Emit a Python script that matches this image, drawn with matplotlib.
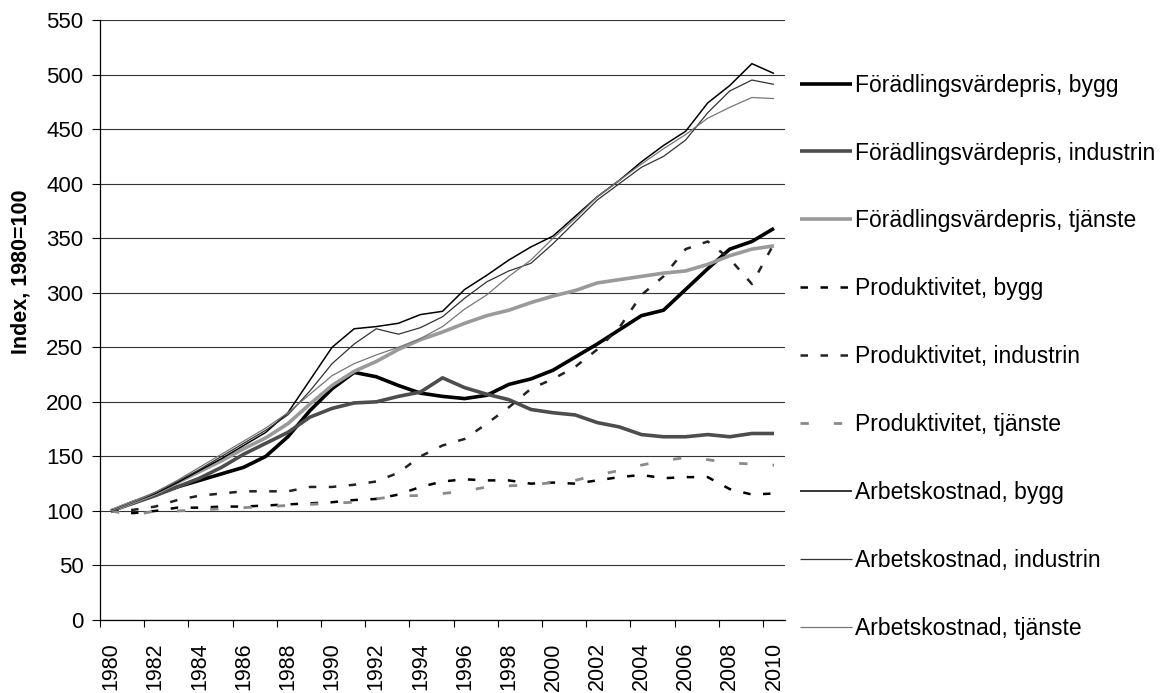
import matplotlib
matplotlib.use("Agg")
import matplotlib.pyplot as plt
import numpy as np

years = list(range(1980, 2011))

fv_bygg = [100, 108, 115, 122, 128, 134, 140, 150, 168, 192, 212, 227, 223, 215, 208, 205,
           203, 206, 216, 221, 229, 241, 253, 266, 279, 284, 303, 322, 340, 347, 359]
fv_industrin = [100, 107, 114, 122, 130, 140, 152, 162, 172, 186, 194, 199, 200, 205, 209, 222,
                213, 207, 202, 193, 190, 188, 181, 177, 170, 168, 168, 170, 168, 171, 171]
fv_tjanste = [100, 108, 116, 126, 136, 146, 157, 167, 180, 198, 215, 228, 237, 248, 257, 264,
              272, 279, 284, 291, 297, 302, 309, 312, 315, 318, 320, 326, 334, 340, 343]
prod_bygg = [100, 98, 100, 103, 103, 104, 104, 105, 106, 107, 108, 110, 111, 115, 122, 127,
             129, 128, 128, 125, 126, 125, 128, 131, 133, 130, 131, 131, 120, 115, 116]
prod_industrin = [100, 101, 104, 110, 114, 116, 118, 118, 118, 122, 122, 124, 127, 135, 150, 160,
                  166, 180, 195, 212, 221, 232, 248, 268, 298, 315, 340, 347, 331, 308, 345]
prod_tjanste = [100, 96, 100, 100, 101, 102, 103, 104, 105, 106, 107, 108, 111, 114, 114, 116,
                118, 122, 123, 124, 126, 128, 133, 137, 142, 146, 149, 147, 144, 143, 142]
ak_bygg = [100, 108, 116, 126, 137, 148, 160, 172, 190, 220, 250, 267, 269, 272, 280, 283,
           303, 316, 330, 342, 352, 370, 388, 403, 420, 435, 448, 474, 490, 510, 501]
ak_industrin = [100, 108, 117, 127, 138, 150, 162, 174, 188, 210, 235, 253, 267, 262, 268, 278,
                295, 310, 320, 327, 345, 365, 385, 400, 415, 425, 440, 465, 485, 495, 491]
ak_tjanste = [100, 108, 117, 128, 140, 152, 164, 176, 190, 207, 224, 235, 243, 250, 258, 269,
              285, 298, 315, 330, 350, 368, 388, 403, 418, 432, 445, 460, 470, 479, 478]

labels = ["Förädlingsvärdepris, bygg", "Förädlingsvärdepris, industrin",
          "Förädlingsvärdepris, tjänste", "Produktivitet, bygg", "Produktivitet, industrin",
          "Produktivitet, tjänste", "Arbetskostnad, bygg", "Arbetskostnad, industrin",
          "Arbetskostnad, tjänste"]
tick_years = list(range(1980, 2011, 2))
yticks = list(range(0, 551, 50))

plt.rcParams['font.family'] = ['Liberation Sans', 'DejaVu Sans']

fig = plt.figure(figsize=(11.62, 6.93), dpi=100)
ax = fig.add_axes([0.0861, 0.1053, 0.5895, 0.8658])

series = [fv_bygg, fv_industrin, fv_tjanste, prod_bygg, prod_industrin, prod_tjanste,
          ak_bygg, ak_industrin, ak_tjanste]
styles = [
    dict(color='#000000', lw=2.6, ls='-'),
    dict(color='#4d4d4d', lw=2.6, ls='-'),
    dict(color='#9a9a9a', lw=2.6, ls='-'),
    dict(color='#000000', lw=1.8, ls=(0, (3, 5))),
    dict(color='#222222', lw=1.8, ls=(0, (3, 5))),
    dict(color='#8a8a8a', lw=2.0, ls=(0, (3, 9))),
    dict(color='#000000', lw=1.1, ls='-'),
    dict(color='#333333', lw=0.9, ls='-'),
    dict(color='#777777', lw=0.9, ls='-'),
]
for s, lab, st in zip(series, labels, styles):
    ax.plot(years, s, label=lab, solid_capstyle='butt', dash_capstyle='butt', **st)

ax.set_xlim(1979.5, 2010.5)
ax.set_ylim(0, 550)
ax.set_yticks(yticks)
ax.yaxis.grid(True, color='#333333', lw=0.8)
ax.set_axisbelow(True)
ax.set_xticks(tick_years)
ax.set_xticklabels([str(y) for y in tick_years], rotation=90)
ax.tick_params(axis='x', length=0, pad=16, labelsize=15.5)
ax.set_xticks([y - 0.5 for y in tick_years], minor=True)
ax.tick_params(axis='x', which='minor', length=5, direction='out', width=0.8)
ax.tick_params(axis='y', length=6, direction='out', width=0.8, labelsize=16, pad=6)
for sp in ['top', 'right']:
    ax.spines[sp].set_visible(False)
ax.spines['left'].set_linewidth(0.9)
ax.spines['bottom'].set_linewidth(0.9)
ax.set_ylabel("Index, 1980=100", fontsize=15.5, fontweight='bold')
ax.yaxis.set_label_coords(-0.1, 0.58)

ax.legend(loc='upper left', bbox_to_anchor=(1.008, 0.926), frameon=False, fontsize=16.5,
          handlelength=2.27, handletextpad=0.13, labelspacing=1.96, borderaxespad=0)

fig.savefig("out.png", dpi=100)
